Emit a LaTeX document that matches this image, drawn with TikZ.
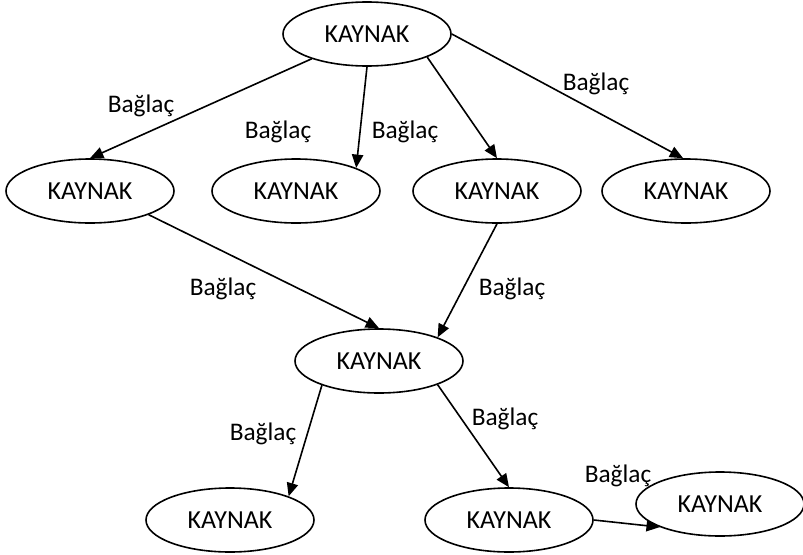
\documentclass[tikz,border=0pt]{standalone}
\usepackage{fontspec}
\setmainfont{Carlito}
\usetikzlibrary{shapes.geometric,arrows.meta}
\begin{document}
\begin{tikzpicture}[x=0.75pt,y=-0.75pt,
  res/.style={draw, ellipse, line width=1.2pt, minimum width=126pt, minimum height=48pt,
    inner sep=0pt, font=\fontsize{19.5pt}{21pt}\selectfont},
  link/.style={draw, line width=1.2pt, -{Triangle[length=10pt,width=8.5pt]}},
  lbl/.style={font=\fontsize{19pt}{21pt}\selectfont, inner sep=0pt}]
\useasboundingbox (0,0) rectangle (803,554);

% resources
\node[res] (top) at (367,34) {KAYNAK};
\node[res] (l1) at (90,191) {KAYNAK};
\node[res] (l2) at (296,191) {KAYNAK};
\node[res] (l3) at (497,191) {KAYNAK};
\node[res] (l4) at (686,191) {KAYNAK};
\node[res] (mid) at (379,361) {KAYNAK};
\node[res] (bl) at (230,520) {KAYNAK};
\node[res] (bm) at (509,520) {KAYNAK};
\node[res] (br) at (720,504) {KAYNAK};

% links
\draw[link] (top) -- (l1.north);
\draw[link] (top.south) -- (l2.21);
\draw[link] (top.-21) -- (l3.north);
\draw[link] (top.east) -- (l4.95);
\draw[link] (l1.-22) -- (mid.north);
\draw[link] (l3.south) -- (mid.22);
\draw[link] (mid.-157) -- (bl.22);
\draw[link] (mid.-22) -- (bm.north);
\draw[link] (bm.east) -- (br.201);

% link labels
\node[lbl] (t1) at (141,106) {Bağlaç};
\node[lbl] (t2) at (278,132) {Bağlaç};
\node[lbl] (t3) at (405,132) {Bağlaç};
\node[lbl] (t4) at (596,84) {Bağlaç};
\node[lbl] (t5) at (223,289) {Bağlaç};
\node[lbl] (t6) at (512,289) {Bağlaç};
\node[lbl] (t7) at (263,434) {Bağlaç};
\node[lbl] (t8) at (505,419) {Bağlaç};
\node[lbl] (t9) at (618,476) {Bağlaç};
\end{tikzpicture}
\end{document}
